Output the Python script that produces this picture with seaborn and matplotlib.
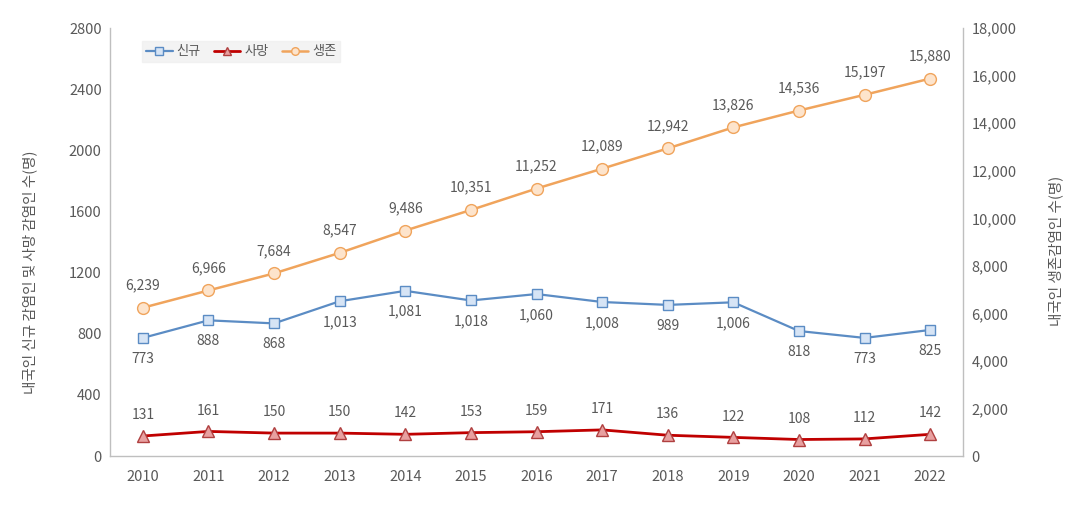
import numpy as np
import pandas as pd
import seaborn as sns
import matplotlib.pyplot as plt

years = ["2010", "2011", "2012", "2013", "2014", "2015", "2016",
         "2017", "2018", "2019", "2020", "2021", "2022"]
new_cases = [773, 888, 868, 1013, 1081, 1018, 1060, 1008, 989, 1006, 818, 773, 825]
deaths = [131, 161, 150, 150, 142, 153, 159, 171, 136, 122, 108, 112, 142]
survivors = [6239, 6966, 7684, 8547, 9486, 10351, 11252, 12089, 12942,
             13826, 14536, 15197, 15880]

sns.set_theme(style="white")
plt.rcParams['font.family'] = ['Noto Sans CJK KR', 'DejaVu Sans']

text_color = '#595959'
spine_color = '#bfbfbf'

fig = plt.figure(figsize=(10.83, 5.22), dpi=100)
ax = fig.add_axes([0.1016, 0.1264, 0.7876, 0.8196])
ax2 = ax.twinx()

x = np.arange(len(years))
df = pd.DataFrame({'x': x, 'new': new_cases, 'death': deaths, 'surv': survivors})

sns.lineplot(data=df, x='x', y='new', ax=ax, color='#5b8cc4', lw=1.6,
             marker='s', markersize=7.5, markerfacecolor='#d6e4f5',
             markeredgecolor='#5b8cc4', markeredgewidth=1.0, label='신규', legend=False)
sns.lineplot(data=df, x='x', y='death', ax=ax, color='#c00000', lw=2.0,
             marker='^', markersize=8.5, markerfacecolor='#e8a0a0',
             markeredgecolor='#b04040', markeredgewidth=1.0, label='사망', legend=False)
sns.lineplot(data=df, x='x', y='surv', ax=ax2, color='#f0a45c', lw=1.8,
             marker='o', markersize=8.5, markerfacecolor='#fde4cc',
             markeredgecolor='#f0a45c', markeredgewidth=1.0, label='생존', legend=False)

# value labels: new cases below, deaths and survivors above
for xi, v in zip(x, new_cases):
    ax.annotate(f'{v:,}', (xi, v), xytext=(0, -15), textcoords='offset points',
                ha='center', va='center', fontsize=10, color=text_color)
for xi, v in zip(x, deaths):
    ax.annotate(f'{v:,}', (xi, v), xytext=(0, 15), textcoords='offset points',
                ha='center', va='center', fontsize=10, color=text_color)
for xi, v in zip(x, survivors):
    ax2.annotate(f'{v:,}', (xi, v), xytext=(0, 16), textcoords='offset points',
                 ha='center', va='center', fontsize=10, color=text_color)

ax.set_xlim(-0.5, len(years) - 0.5)
ax.set_ylim(0, 2800)
ax.set_yticks(range(0, 2801, 400))
ax2.set_ylim(0, 18000)
ax2.set_yticks(range(0, 18001, 2000))
ax2.set_yticklabels([f'{t:,}' for t in range(0, 18001, 2000)])

ax.set_xticks(x)
ax.set_xticklabels(years)
ax.set_xticks(np.arange(-0.5, len(years), 1), minor=True)
ax.tick_params(axis='x', which='major', length=0, pad=10, labelsize=10.5, colors=text_color)
ax.tick_params(axis='x', which='minor', length=5, color=spine_color, direction='out')
ax.tick_params(axis='y', length=0, labelsize=10.5, colors=text_color, pad=6)
ax2.tick_params(axis='y', length=0, labelsize=10.5, colors=text_color, pad=6)

ax.set_xlabel('')
ax.set_ylabel('내국인 신규 감염인 및 사망 감염인 수(명)', fontsize=10.5, color=text_color)
ax2.set_ylabel('내국인 생존감염인 수(명)', fontsize=10.5, color=text_color)
ax.yaxis.set_label_coords(-0.085, 0.43)
ax2.yaxis.set_label_coords(1.10, 0.48)

for a in (ax, ax2):
    a.spines['top'].set_visible(False)
    for s in ('left', 'right', 'bottom'):
        a.spines[s].set_color(spine_color)
        a.spines[s].set_linewidth(1.0)
ax.spines['right'].set_visible(False)
ax2.spines['left'].set_visible(False)
ax2.spines['bottom'].set_visible(False)

h1, l1 = ax.get_legend_handles_labels()
h2, l2 = ax2.get_legend_handles_labels()
leg = ax.legend(h1 + h2, l1 + l2, loc='upper left', bbox_to_anchor=(0.03, 0.985),
                ncol=3, frameon=True, fontsize=9.5, handlelength=2.0,
                handletextpad=0.3, columnspacing=1.0, borderpad=0.3,
                fancybox=False, labelcolor=text_color)
leg.get_frame().set_facecolor('#f0f0f0')
leg.get_frame().set_edgecolor('#f0f0f0')
for h in leg.legend_handles:
    h.set_markersize(5.5)

fig.savefig('out.png', dpi=100)
